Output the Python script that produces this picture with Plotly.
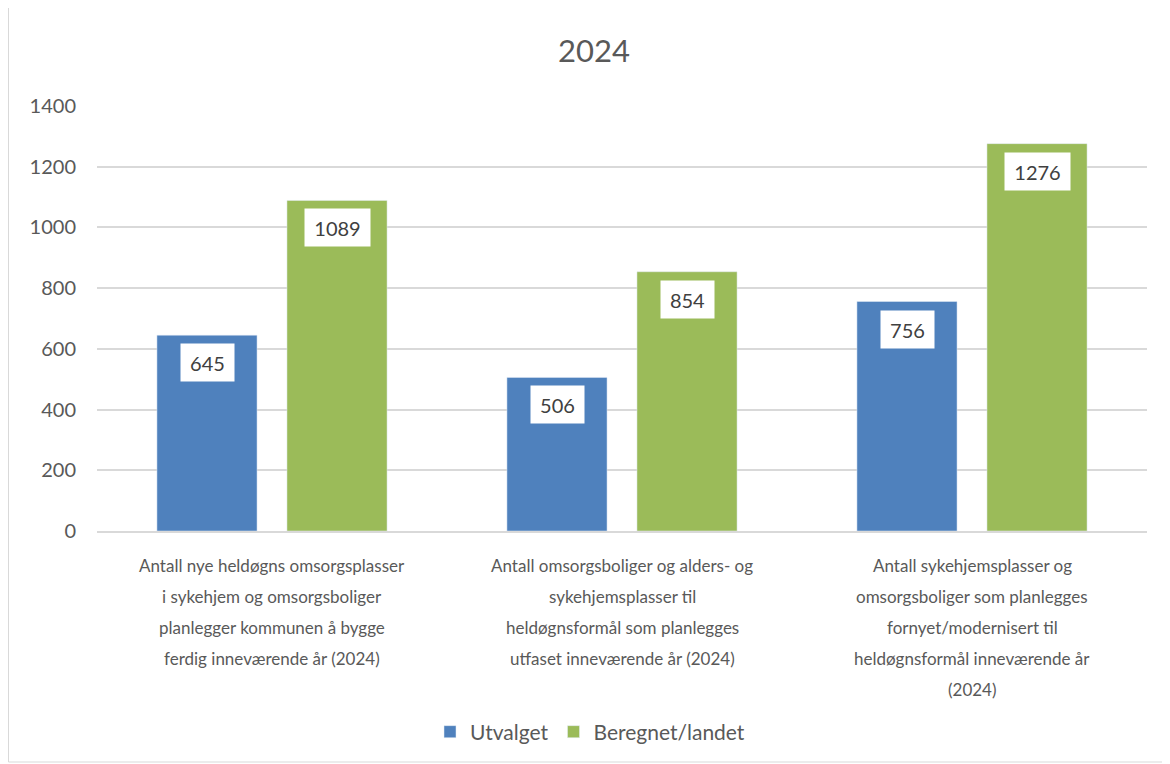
import plotly.graph_objects as go

categories = [
    "Antall nye heldøgns omsorgsplasser<br>i sykehjem og omsorgsboliger<br>planlegger kommunen å bygge<br>ferdig inneværende år (2024)",
    "Antall omsorgsboliger og alders- og<br>sykehjemsplasser til<br>heldøgnsformål som planlegges<br>utfaset inneværende år (2024)",
    "Antall sykehjemsplasser og<br>omsorgsboliger som planlegges<br>fornyet/modernisert til<br>heldøgnsformål inneværende år<br>(2024)",
]
cat_keys = ["c1", "c2", "c3"]
utvalget = [645, 506, 756]
beregnet = [1089, 854, 1276]
y_ticks = [0, 200, 400, 600, 800, 1000, 1200, 1400]
title_text = "2024"

FONT = "Lato"
TXT = "#595959"
OFF = 8  # page body margin
W, H = 1170 - OFF, 764 - OFF
L, T = 97 - OFF, 106 - OFF
R = W - (1147 - OFF)
B = H - (531 - OFF)
PW, PH = W - L - R, H - T - B


def px_x(x):
    return (x - OFF - L) / PW


def px_y(y):
    return (531 - y) / PH


fig = go.Figure()
fig.add_trace(go.Bar(x=cat_keys, y=utvalget, name="Utvalget", marker_color="#4F81BD"))
fig.add_trace(go.Bar(x=cat_keys, y=beregnet, name="Beregnet/landet", marker_color="#9BBB59"))

ann = []
for k, v1, v2 in zip(cat_keys, utvalget, beregnet):
    for v, dx in ((v1, -65), (v2, 65)):
        s = str(v)
        ann.append(dict(x=k, y=v, xref="x", yref="y", text=s, showarrow=False,
                        xshift=dx, yshift=-8, yanchor="top", bgcolor="white",
                        width=12 * len(s) + 5, height=25, borderpad=6,
                        font=dict(family=FONT, size=20, color="#404040")))
for k, lab in zip(cat_keys, categories):
    for i, line in enumerate(lab.split("<br>")):
        ann.append(dict(x=k, y=0, xref="x", yref="y", text=line, showarrow=False,
                        yanchor="middle", yshift=-(34 + 31 * i),
                        font=dict(family=FONT, size=17, color=TXT)))
ann.append(dict(x=px_x(594), y=px_y(50), xref="paper", yref="paper",
                text=title_text, showarrow=False, yanchor="middle",
                font=dict(family=FONT, size=31, color=TXT)))

fig.update_layout(
    width=W, height=H,
    margin=dict(l=L, r=R, t=T, b=B),
    paper_bgcolor="white", plot_bgcolor="white",
    barmode="group", bargap=0.257, bargroupgap=0.23,
    annotations=ann,
    showlegend=True,
    legend=dict(orientation="h", x=px_x(590), xanchor="center", y=px_y(732), yanchor="middle",
                font=dict(family=FONT, size=21, color=TXT), itemwidth=30,
                tracegroupgap=0),
    font=dict(family=FONT, color=TXT),
    shapes=[dict(type="rect", xref="paper", yref="paper",
                 x0=px_x(8.5), x1=px_x(1169.5), y0=px_y(762), y1=px_y(7),
                 line=dict(color="#D9D9D9", width=1), fillcolor="rgba(0,0,0,0)", layer="below")],
)
fig.update_xaxes(showticklabels=False, showline=True, linecolor="#D9D9D9", linewidth=1.5,
                 ticks="", showgrid=False, fixedrange=True)
fig.update_yaxes(range=[0, 1400], tickvals=y_ticks, showgrid=True, gridcolor="#D9D9D9", gridwidth=1.5,
                 zeroline=False, showline=False, ticks="", ticklabelstandoff=20,
                 tickfont=dict(family=FONT, size=20, color=TXT), fixedrange=True)

fig.write_html("out.html")
